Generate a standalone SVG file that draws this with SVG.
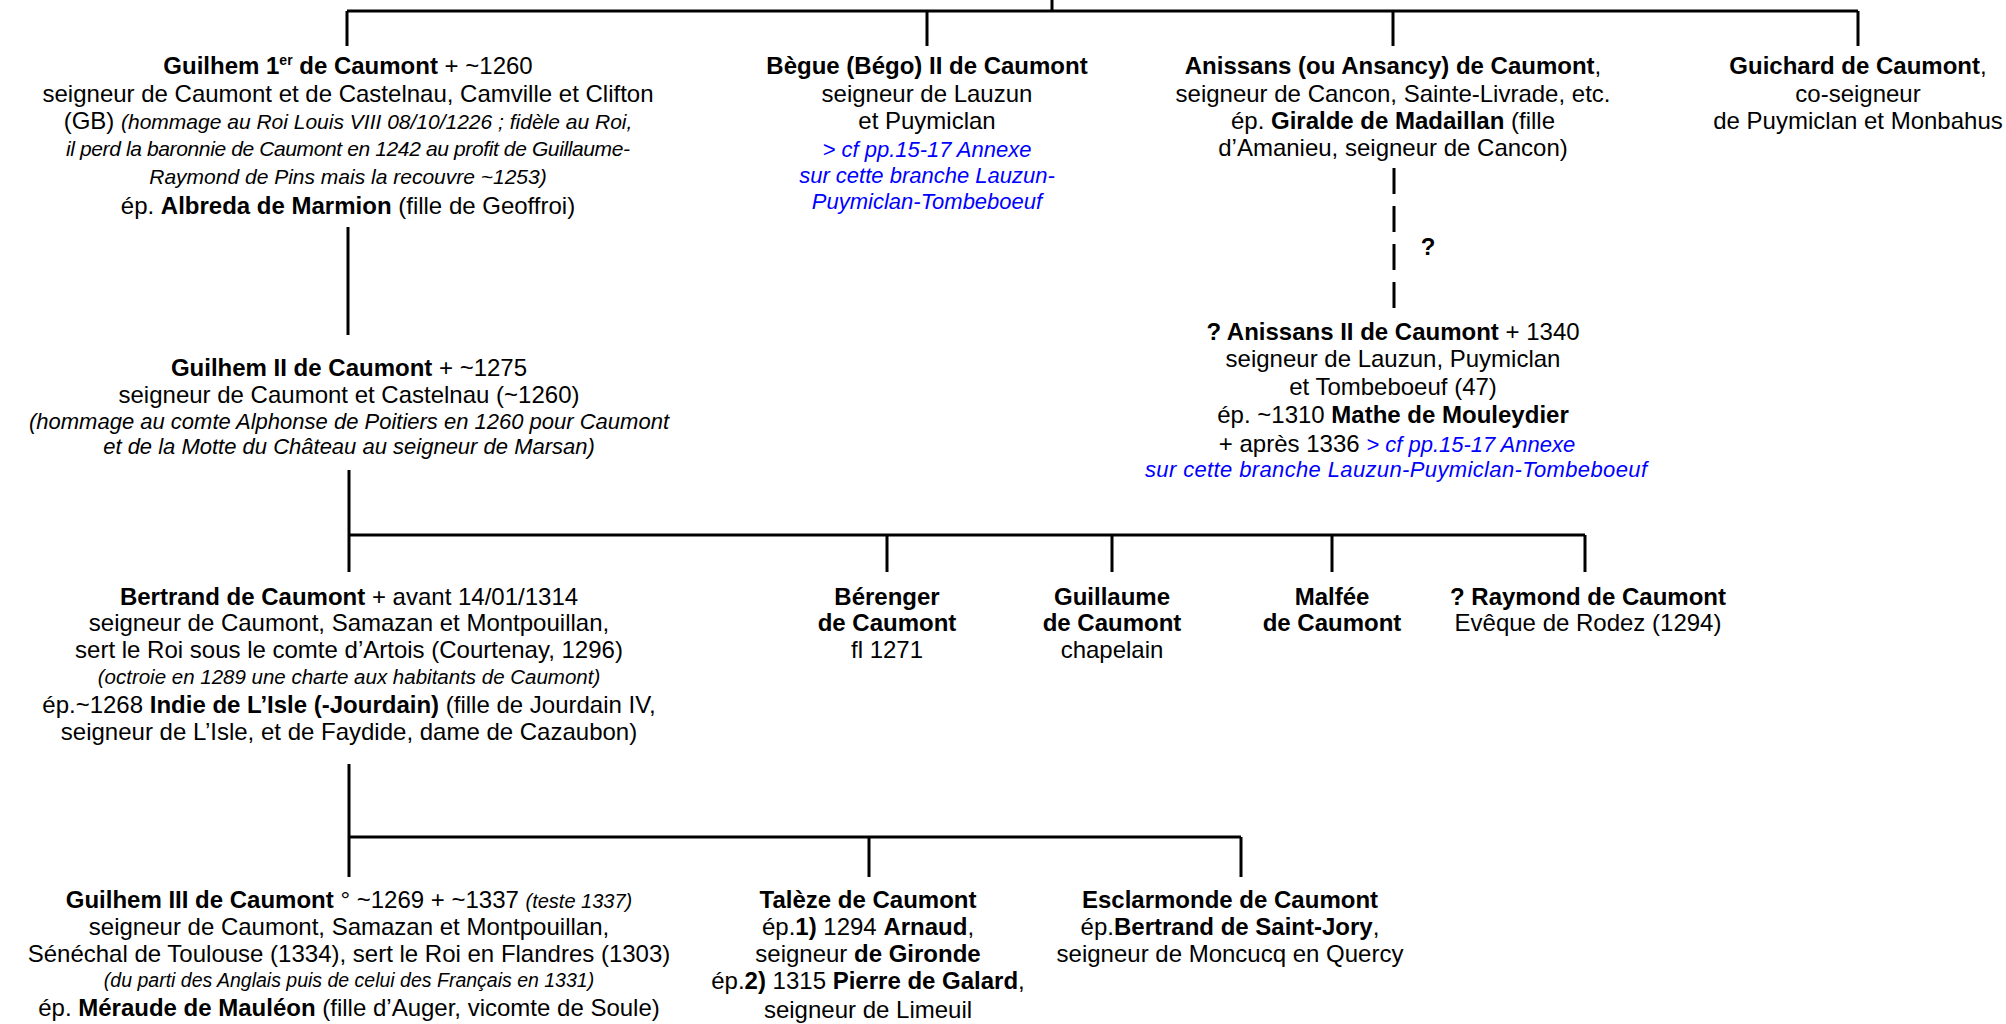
<svg xmlns="http://www.w3.org/2000/svg" width="2006" height="1024" viewBox="0 0 2006 1024">
<style>
text{font-family:"Liberation Sans",Arial,sans-serif;font-size:24px;fill:#000;text-anchor:middle}
.b{font-weight:bold}
.i{font-style:italic;font-size:20px}
.bl{fill:#0000ff}
.sup{font-size:14px;font-weight:bold}
.c{stroke:#000;stroke-width:3;fill:none}
.d{stroke:#000;stroke-width:3;fill:none;stroke-dasharray:26 12}
</style>
<rect width="2006" height="1024" fill="#fff"/>
<g id="connectors">
<path class="c" d="M1052 0V11M347 11H1858M347 11V46M927 11V46M1393 11V46M1858 11V46"/>
<path class="d" d="M1394 168V308"/>
<path class="c" d="M348 227V335M349 470V572M349 535H1585M887 535V572M1112 535V572M1332 535V572M1585 535V572"/>
<path class="c" d="M349 764V877M349 837H1241M869 837V877M1241 837V877"/>
</g>
<g id="q"><text class="b" x="1428" y="255">?</text></g>
<g id="guilhem1">
<text x="348" y="74"><tspan class="b">Guilhem 1</tspan><tspan class="sup" dy="-9">er</tspan><tspan class="b" dy="9"> de Caumont</tspan> + ~1260</text>
<text x="348" y="102">seigneur de Caumont et de Castelnau, Camville et Clifton</text>
<text x="348" y="129">(GB) <tspan class="i" style="font-size:21px">(hommage au Roi Louis VIII 08/10/1226 ; fidèle au Roi,</tspan></text>
<text class="i" style="font-size:21px" x="348" y="156" textLength="564" lengthAdjust="spacing">il perd la baronnie de Caumont en 1242 au profit de Guillaume-</text>
<text class="i" style="font-size:21px" x="348" y="184">Raymond de Pins mais la recouvre ~1253)</text>
<text x="348" y="214">ép. <tspan class="b">Albreda de Marmion</tspan> (fille de Geoffroi)</text>
</g>
<g id="begue">
<text class="b" x="927" y="74">Bègue (Bégo) II de Caumont</text>
<text x="927" y="102">seigneur de Lauzun</text>
<text x="927" y="129">et Puymiclan</text>
<text class="i bl" style="font-size:22px" x="927" y="157">&gt; cf pp.15-17 Annexe</text>
<text class="i bl" style="font-size:22px" x="927" y="183">sur cette branche Lauzun-</text>
<text class="i bl" style="font-size:22px" x="927" y="209">Puymiclan-Tombeboeuf</text>
</g>
<g id="anissans">
<text x="1393" y="74"><tspan class="b">Anissans (ou Ansancy) de Caumont</tspan>,</text>
<text x="1393" y="102">seigneur de Cancon, Sainte-Livrade, etc.</text>
<text x="1393" y="129">ép. <tspan class="b">Giralde de Madaillan</tspan> (fille</text>
<text x="1393" y="156">d’Amanieu, seigneur de Cancon)</text>
</g>
<g id="guichard">
<text x="1858" y="74"><tspan class="b">Guichard de Caumont</tspan>,</text>
<text x="1858" y="102">co-seigneur</text>
<text x="1858" y="129">de Puymiclan et Monbahus</text>
</g>
<g id="anissans2">
<text x="1393" y="340"><tspan class="b">? Anissans II de Caumont</tspan> + 1340</text>
<text x="1393" y="367">seigneur de Lauzun, Puymiclan</text>
<text x="1393" y="395">et Tombeboeuf (47)</text>
<text x="1393" y="423">ép. ~1310 <tspan class="b">Mathe de Mouleydier</tspan></text>
<text x="1397" y="452">+ après 1336 <tspan class="i bl" style="font-size:22px">&gt; cf pp.15-17 Annexe</tspan></text>
<text class="i bl" style="font-size:22px" x="1396" y="477" textLength="502" lengthAdjust="spacing">sur cette branche Lauzun-Puymiclan-Tombeboeuf</text>
</g>
<g id="guilhem2">
<text x="349" y="376"><tspan class="b">Guilhem II de Caumont</tspan> + ~1275</text>
<text x="349" y="403">seigneur de Caumont et Castelnau (~1260)</text>
<text class="i" style="font-size:22px" x="349" y="429">(hommage au comte Alphonse de Poitiers en 1260 pour Caumont</text>
<text class="i" style="font-size:22px" x="349" y="454">et de la Motte du Château au seigneur de Marsan)</text>
</g>
<g id="bertrand">
<text x="349" y="605"><tspan class="b">Bertrand de Caumont</tspan> + avant 14/01/1314</text>
<text x="349" y="631">seigneur de Caumont, Samazan et Montpouillan,</text>
<text x="349" y="658">sert le Roi sous le comte d’Artois (Courtenay, 1296)</text>
<text class="i" style="font-size:20.5px" x="349" y="684">(octroie en 1289 une charte aux habitants de Caumont)</text>
<text x="349" y="713">ép.~1268 <tspan class="b">Indie de L’Isle (-Jourdain)</tspan> (fille de Jourdain IV,</text>
<text x="349" y="740">seigneur de L’Isle, et de Faydide, dame de Cazaubon)</text>
</g>
<g id="berenger">
<text class="b" x="887" y="605">Bérenger</text>
<text class="b" x="887" y="631">de Caumont</text>
<text x="887" y="658">fl 1271</text>
</g>
<g id="guillaume">
<text class="b" x="1112" y="605">Guillaume</text>
<text class="b" x="1112" y="631">de Caumont</text>
<text x="1112" y="658">chapelain</text>
</g>
<g id="malfee">
<text class="b" x="1332" y="605">Malfée</text>
<text class="b" x="1332" y="631">de Caumont</text>
</g>
<g id="raymond">
<text class="b" x="1588" y="605">? Raymond de Caumont</text>
<text x="1588" y="631">Evêque de Rodez (1294)</text>
</g>
<g id="guilhem3">
<text x="349" y="908"><tspan class="b">Guilhem III de Caumont</tspan> ° ~1269 + ~1337 <tspan class="i">(teste 1337)</tspan></text>
<text x="349" y="935">seigneur de Caumont, Samazan et Montpouillan,</text>
<text x="349" y="962">Sénéchal de Toulouse (1334), sert le Roi en Flandres (1303)</text>
<text class="i" style="font-size:19.5px" x="349" y="987">(du parti des Anglais puis de celui des Français en 1331)</text>
<text x="349" y="1016">ép. <tspan class="b">Méraude de Mauléon</tspan> (fille d’Auger, vicomte de Soule)</text>
</g>
<g id="taleze">
<text class="b" x="868" y="908">Talèze de Caumont</text>
<text x="868" y="935">ép.<tspan class="b">1)</tspan> 1294 <tspan class="b">Arnaud</tspan>,</text>
<text x="868" y="962">seigneur <tspan class="b">de Gironde</tspan></text>
<text x="868" y="989">ép.<tspan class="b">2)</tspan> 1315 <tspan class="b">Pierre de Galard</tspan>,</text>
<text x="868" y="1018">seigneur de Limeuil</text>
</g>
<g id="esclarmonde">
<text class="b" x="1230" y="908">Esclarmonde de Caumont</text>
<text x="1230" y="935">ép.<tspan class="b">Bertrand de Saint-Jory</tspan>,</text>
<text x="1230" y="962">seigneur de Moncucq en Quercy</text>
</g>
</svg>
